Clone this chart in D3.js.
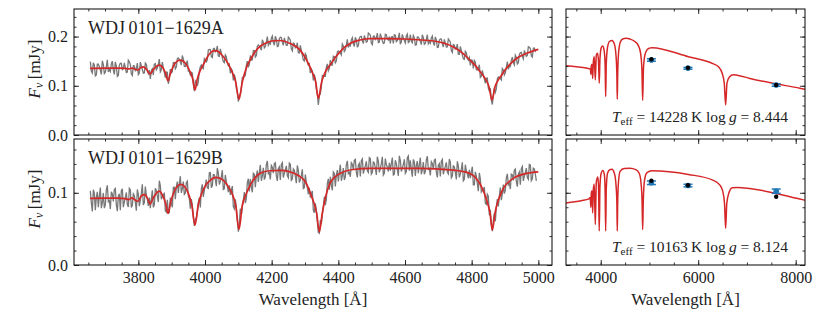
<!DOCTYPE html>
<html><head><meta charset="utf-8">
<script src="https://cdn.jsdelivr.net/npm/d3@7"></script>
<style>
body{margin:0;background:#fff}
svg text{font-family:"Liberation Serif","DejaVu Serif",serif;fill:#222}
</style>
</head><body>
<svg id="c" width="830" height="312"></svg>
<script>
// ---------- DATA ----------
// observed spectra sampled on a 3 Å grid starting at 3656 Å
const obsStart = 3656, obsStep = 3;
const obsA = [
.149,.130,.126,.1468,.142,.1202,.122,.1441,.144,.1386,.132,.1232,.151,.1429,.125,.1276,.139,.1528,.128,.1332,
.129,.1444,.150,.1318,.123,.1486,.140,.1192,.121,.1416,.146,.1457,.1327,.1346,.1465,.1367,.127,.128,.152,.1489,
.143,.1245,.121,.1407,.140,.131,.134,.1461,.123,.1261,.148,.1406,.133,.1255,.126,.146,.1435,.1298,.1245,.1315,
.114,.1311,.1345,.1218,.144,.145,.1325,.1361,.1435,.1542,.1285,.1327,.148,.1362,.127,.1167,.128,.1275,.104,.113,
.134,.1263,.1285,.1473,.147,.1345,.138,.1553,.1565,.1532,.1488,.1422,.1616,.1541,.1395,.1392,.1448,.1512,.1295,.1293,
.122,.1275,.126,.104,.089,.110,.107,.100,.109,.1298,.1385,.1423,.137,.135,.155,.1518,.1485,.1528,.173,.1738,
.1735,.159,.1575,.1753,.176,.169,.172,.1808,.1605,.1598,.175,.1663,.1575,.1488,.147,.1625,.159,.1463,.1405,.1435,
.1255,.134,.1305,.1108,.123,.115,.095,.0865,.068,.081,.083,.095,.117,.117,.119,.1208,.1415,.150,.1375,.1435,
.1615,.1523,.153,.1718,.1715,.1585,.1615,.1803,.183,.1805,.177,.1723,.1935,.1888,.177,.180,.189,.1998,.1825,.1873,
.185,.1965,.201,.1882,.1824,.2005,.1946,.1797,.1808,.1958,.1988,.1982,.1886,.182,.1974,.1898,.1822,.1826,.199,.1963,
.1926,.1753,.171,.1867,.1854,.1771,.1788,.1875,.1672,.1666,.182,.1719,.1617,.1526,.1504,.1653,.1611,.1479,.1417,.1443,
.1259,.1341,.1303,.1108,.1233,.1145,.0937,.0832,.061,.0796,.0836,.0972,.1207,.1192,.1197,.1193,.1378,.1446,.1304,.1352,
.152,.142,.142,.160,.159,.1466,.1502,.1686,.171,.1694,.1667,.1627,.1847,.1807,.1697,.1733,.1829,.1943,.1777,.183,
.1812,.1929,.1976,.1853,.180,.1987,.1934,.1791,.1808,.1965,.2001,.2004,.1916,.1859,.2022,.1955,.1887,.190,.2073,.2055,
.2027,.1869,.1838,.2009,.2008,.1939,.1969,.2069,.1879,.1889,.206,.1989,.192,.1859,.187,.2049,.204,.1949,.193,.1999,
.186,.199,.1999,.1859,.2038,.2027,.1896,.1916,.1975,.2075,.1844,.1894,.2043,.1973,.1922,.1871,.201,.205,.1879,.1899,
.2038,.1906,.1874,.2022,.1979,.1827,.1834,.1992,.199,.1949,.1897,.1837,.2036,.1974,.1842,.186,.1938,.2037,.1855,.1894,
.1863,.1971,.2009,.1877,.1815,.1993,.1931,.1777,.1782,.1927,.1952,.1948,.1853,.1788,.1943,.1866,.1789,.1791,.1952,.1924,
.1885,.1717,.1678,.1838,.1827,.1744,.176,.1847,.1644,.1641,.1798,.1713,.1627,.1548,.1539,.170,.167,.1561,.1522,.1573,
.1413,.1523,.1513,.1353,.1513,.1479,.1325,.1319,.1353,.1427,.1171,.1193,.1315,.1217,.1139,.1051,.1153,.1158,.0953,.0892,
.095,.071,.062,.081,.096,.0868,.0936,.1138,.118,.117,.115,.112,.135,.132,.122,.1265,.137,.1493,.1335,.1398,
.139,.1521,.1581,.1468,.1424,.1621,.1577,.1444,.147,.163,.1669,.1679,.1598,.1548,.1717,.1657,.1596,.1615,.1793,.1781,
.1758,.1606,.1583,.176,.1766,.1702,.1738];
const obsB = [
.1027,.0863,.0742,.1043,.0997,.0758,.0937,.1013,.0802,.0953,.1072,.0788,.0862,.0998,.0787,.0833,.1042,.1103,.0877,.0893,
.0775,.1015,.0985,.088,.1045,.106,.0835,.0745,.0955,.0985,.0759,.1028,.1057,.0801,.0875,.0933,.1005,.0837,.0803,.1063,
.1044,.0796,.0827,.0987,.0964,.0872,.0751,.1046,.0977,.0815,.0891,.0991,.1118,.083,.0863,.1085,.097,.0908,.0817,.0933,
.0788,.0918,.1034,.0798,.0834,.1063,.1032,.0952,.0872,.1167,.1097,.091,.0944,.096,.1002,.0751,.0733,.0903,.072,.0727,
.0934,.0849,.0799,.1076,.1077,.0912,.1083,.1155,.0998,.1126,.123,.0999,.1056,.1155,.0978,.0993,.114,.1161,.0954,.0921,
.078,.0914,.0831,.0661,.054,.0629,.0655,.0724,.0864,.0933,.0798,.1054,.1118,.0944,.1034,.1103,.1183,.1067,.1059,.1278,
.128,.1071,.1101,.1253,.1249,.1183,.1092,.134,.1275,.1115,.1159,.1224,.1313,.1047,.1057,.1247,.1149,.1091,.1008,.1104,
.0972,.1038,.1092,.081,.0779,.0909,.0798,.0613,.046,.0579,.0781,.0692,.0806,.0896,.101,.0856,.0918,.114,.1194,.1019,
.1191,.1081,.1007,.1269,.1255,.1078,.1236,.1307,.1149,.128,.1386,.1166,.1234,.1346,.1182,.122,.139,.1441,.1264,.1279,
.1185,.1378,.1354,.1271,.1403,.1416,.1236,.1165,.1333,.1358,.1178,.1394,.1417,.1211,.1269,.1315,.1373,.1237,.1209,.1411,
.1396,.1174,.1192,.133,.1312,.1234,.1132,.1378,.1312,.1144,.118,.124,.1324,.106,.1072,.1251,.1141,.1073,.0981,.1069,
.0933,.0984,.1024,.0758,.0723,.0853,.0763,.0599,.045,.044,.0624,.0568,.0698,.0811,.0946,.083,.0912,.1129,.1192,.1043,
.122,.1109,.1034,.1289,.1268,.1089,.1245,.1315,.1157,.1285,.1389,.1166,.123,.1342,.1178,.1219,.1391,.1443,.1267,.1284,
.1222,.1418,.1397,.1316,.145,.1463,.1284,.1213,.1381,.1406,.1227,.1444,.1468,.1265,.1326,.1375,.1436,.1305,.1282,.1487,
.1475,.1259,.1283,.1427,.1415,.1343,.1247,.1499,.1439,.1283,.1331,.1403,.1499,.1247,.1271,.1475,.1391,.1355,.1295,.1415,
.1307,.1403,.1487,.1247,.1259,.1451,.1403,.1319,.1235,.1511,.1451,.1295,.1343,.1391,.1463,.1271,.1295,.1487,.1511,.1307,
.1451,.1319,.1223,.1463,.1427,.1235,.1379,.1439,.1271,.1388,.1486,.1256,.1318,.1424,.1258,.1292,.1457,.1507,.1325,.1338,
.124,.1431,.1406,.1322,.1454,.1465,.1286,.1212,.1382,.1403,.1226,.1438,.1462,.1257,.132,.1364,.1422,.1289,.1264,.1467,
.1424,.1208,.1231,.1373,.1359,.1285,.1186,.1435,.1372,.1214,.1259,.1328,.1421,.1167,.1188,.1389,.1302,.1264,.1201,.1317,
.1204,.1289,.1361,.1109,.1109,.129,.123,.1126,.1021,.1275,.1193,.1011,.1032,.1044,.108,.0852,.0839,.0981,.0954,.0688,
.0763,.056,.047,.0612,.0715,.0605,.0803,.0912,.0812,.0954,.1074,.0897,.0984,.1113,.0989,.1036,.1204,.1262,.1111,.1136,
.1052,.1258,.1248,.1172,.1311,.1328,.1153,.1086,.1259,.1288,.1113,.1334,.1363,.1164,.1229,.128,.1343,.1211,.1187,.1393,
.1383,.1169,.1195,.1341,.133,.126,.1165];

// best-fit model, spectroscopic range (left panels)
const modelWlA = [3655,3700,3740,3760,3772,3780,3798,3808,3815,3825,3835,3845,3855,3863,3872,3882,3889,3896,3905,3915,3925,3935,3945,3955,3963,3970,3977,3985,3995,4005,4015,4025,4035,4050,4065,4080,4092,4102,4112,4125,4140,4160,4180,4200,4225,4255,4285,4305,4320,4332,4340,4350,4362,4375,4390,4405,4420,4435,4465,4495,4550,4600,4650,4695,4720,4745,4770,4795,4810,4825,4840,4852,4861,4870,4880,4890,4900,4920,4940,4965,4985,5000];
const modelFA  = [0.1355,0.1360,0.1360,0.1355,0.1345,0.1358,0.1320,0.1370,0.1385,0.1330,0.1240,0.1330,0.1400,0.1420,0.1380,0.1250,0.1100,0.1250,0.1400,0.1490,0.1520,0.1500,0.1420,0.1290,0.1140,0.0915,0.1140,0.1300,0.1430,0.1560,0.1660,0.1710,0.1710,0.1630,0.1500,0.1300,0.1080,0.0726,0.1080,0.1380,0.1580,0.1770,0.1860,0.1910,0.1920,0.1860,0.1730,0.1520,0.1300,0.1080,0.0746,0.1080,0.1300,0.1420,0.1570,0.1690,0.1790,0.1860,0.1930,0.1957,0.1960,0.1950,0.1930,0.1900,0.1860,0.1790,0.1680,0.1520,0.1420,0.1290,0.1150,0.0980,0.0711,0.0980,0.1120,0.1220,0.1320,0.1470,0.1580,0.1660,0.1710,0.1740];
const modelWlB = [3655,3700,3740,3760,3772,3780,3798,3810,3818,3828,3835,3845,3855,3863,3872,3882,3889,3896,3905,3915,3928,3940,3950,3960,3970,3980,3990,4000,4015,4033,4050,4065,4080,4092,4102,4112,4122,4135,4150,4170,4195,4225,4255,4280,4300,4320,4335,4343,4352,4362,4375,4390,4405,4445,4495,4645,4745,4795,4815,4830,4845,4855,4862,4870,4880,4895,4925,4965,5000];
const modelFB  = [0.0922,0.0925,0.0925,0.0920,0.0905,0.0930,0.0880,0.0960,0.0975,0.0920,0.0844,0.0930,0.1000,0.1024,0.0970,0.0850,0.0715,0.0850,0.0990,0.1080,0.1116,0.1080,0.0990,0.0840,0.0553,0.0840,0.0990,0.1090,0.1170,0.1213,0.1190,0.1120,0.1000,0.0830,0.0493,0.0830,0.0970,0.1100,0.1210,0.1280,0.1305,0.1310,0.1290,0.1240,0.1160,0.0945,0.0715,0.0460,0.0720,0.0950,0.1130,0.1220,0.1268,0.1323,0.1337,0.1337,0.1314,0.1268,0.1190,0.1080,0.0899,0.0720,0.0484,0.0720,0.0900,0.1060,0.1200,0.1268,0.1290];

// model over the wide (photometric) range (right panels)
const sedWlA = [3288,3500,3700,3770,3790,3798,3806,3820,3835,3850,3868,3889,3910,3935,3955,3970,3985,4010,4040,4070,4090,4102,4114,4140,4180,4230,4280,4315,4332,4340,4348,4365,4400,4450,4520,4600,4700,4770,4815,4845,4861,4877,4905,4950,5000,5050,5800,6300,6420,6490,6535,6563,6590,6640,6720,6800,7060,8085,8191];
const sedFA  = [0.1405,0.1385,0.1360,0.1345,0.1335,0.1230,0.1400,0.1440,0.1150,0.1500,0.1590,0.1120,0.1620,0.1660,0.1500,0.1050,0.1550,0.1770,0.1810,0.1720,0.1450,0.0780,0.1450,0.1780,0.1900,0.1920,0.1850,0.1600,0.1200,0.0725,0.1200,0.1650,0.1880,0.1950,0.1965,0.1950,0.1900,0.1820,0.1680,0.1350,0.0704,0.1350,0.1620,0.1730,0.1765,0.1775,0.1590,0.1450,0.1380,0.1260,0.1050,0.0610,0.1050,0.1180,0.1225,0.1215,0.1150,0.0950,0.0930];
const sedWlB = [3288,3600,3760,3785,3798,3808,3822,3835,3850,3868,3889,3910,3940,3955,3970,3985,4010,4045,4075,4090,4102,4114,4140,4185,4230,4280,4315,4332,4340,4348,4365,4400,4480,4600,4720,4790,4825,4848,4861,4874,4900,4950,5050,5800,6300,6440,6500,6540,6563,6586,6630,6700,6800,7060,8085,8191];
const sedFB  = [0.0860,0.0890,0.0915,0.0935,0.0800,0.1000,0.1030,0.0720,0.1060,0.1120,0.0560,0.1150,0.1220,0.1100,0.0470,0.1100,0.1270,0.1310,0.1250,0.1050,0.0470,0.1050,0.1270,0.1320,0.1325,0.1270,0.1100,0.0850,0.0470,0.0850,0.1150,0.1300,0.1337,0.1340,0.1320,0.1270,0.1150,0.0900,0.0490,0.0900,0.1180,0.1280,0.1305,0.1254,0.1176,0.1110,0.1030,0.0850,0.0507,0.0850,0.1000,0.1070,0.1075,0.1060,0.0913,0.0898];

// photometry (observed with error, and synthetic)
const photWl   = [5040, 5790, 7600];
const photObsA = [0.1524, 0.1355, 0.1016];
const photErrA = [0.0025, 0.0018, 0.0025];
const photSynA = [0.1539, 0.1365, 0.1016];
const photObsB = [0.1139, 0.1100, 0.1022];
const photErrB = [0.0025, 0.0018, 0.0030];
const photSynB = [0.1166, 0.1105, 0.0945];

const names  = ["WDJ\u20090101\u22121629A", "WDJ\u20090101\u22121629B"];
const teffs  = ["14228", "10163"];
const loggs  = ["8.444", "8.124"];

const xTicksLeft  = [3800, 4000, 4200, 4400, 4600, 4800, 5000];
const xTicksRight = [4000, 6000, 8000];
const yTicksTop   = [0.0, 0.1, 0.2];
const yTicksBot   = [0.0, 0.1];

// ---------- DRAW ----------
const svg = d3.select("#c");
const INK = "#1a1a1a";
const RED = "#d62728";
const GRAY = "#787878";
const BLUE = "#1f77b4";
let clipN = 0;

function axisTicks(g, scale, orient, pos, values, size, fmt, pad) {
  const f = {bottom: d3.axisBottom, top: d3.axisTop, left: d3.axisLeft, right: d3.axisRight}[orient];
  const ax = f(scale).tickValues(values).tickSizeInner(-size).tickSizeOuter(0)
    .tickPadding(pad || 0).tickFormat(fmt || (() => ""));
  const tr = (orient === "bottom" || orient === "top") ? `translate(0,${pos})` : `translate(${pos},0)`;
  const a = g.append("g").attr("transform", tr).call(ax);
  a.attr("font-family", null).attr("font-size", null);
  a.select(".domain").remove();
  a.selectAll(".tick line").attr("stroke", INK).attr("stroke-width", 0.9);
  a.selectAll(".tick text").attr("font-size", 16).attr("fill", "#222");
  return a;
}

function panel(px, py, xd, yd, o) {
  const x = d3.scaleLinear().domain(xd).range(px);
  const y = d3.scaleLinear().domain(yd).range([py[1], py[0]]);
  const g = svg.append("g");
  const id = "clip" + (clipN++);
  svg.append("clipPath").attr("id", id).append("rect")
    .attr("x", px[0]).attr("y", py[0]).attr("width", px[1] - px[0]).attr("height", py[1] - py[0]);
  const inner = g.append("g").attr("clip-path", `url(#${id})`);
  const xMin = d3.range(o.xMinorStart, xd[1], o.xMinorStep).filter(v => v >= xd[0]);
  const yMin = d3.range(0, yd[1], 0.02);
  axisTicks(g, x, "bottom", py[1], xMin, 2.5);
  axisTicks(g, x, "top", py[0], xMin, 2.5);
  axisTicks(g, x, "bottom", py[1], o.xMajor, 5, o.xLabels ? d3.format("d") : null, 7);
  axisTicks(g, x, "top", py[0], o.xMajor, 5);
  axisTicks(g, y, "left", px[0], yMin, 2.5);
  axisTicks(g, y, "right", px[1], yMin, 2.5);
  axisTicks(g, y, "left", px[0], o.yMajor, 5, o.yLabels ? d3.format(".1f") : null, 6);
  axisTicks(g, y, "right", px[1], o.yMajor, 5);
  g.append("rect").attr("x", px[0]).attr("y", py[0]).attr("width", px[1] - px[0]).attr("height", py[1] - py[0])
    .attr("fill", "none").attr("stroke", INK).attr("stroke-width", 1.1);
  return {x, y, g, inner};
}

const line = (x, y) => d3.line().x(d => x(d[0])).y(d => y(d[1]));
const zip = (a, b) => a.map((v, i) => [v, b[i]]);

const LX = [74, 552], RX = [566, 805];
const TY = [9, 135], BY = [139, 265];
const leftXd = [3607, 5041], rightXd = [3288, 8191];
const topYd = [0, 0.256], botYd = [0, 0.1745];

const rows = [
  {py: TY, yd: topYd, yMajor: yTicksTop, obs: obsA, mwl: modelWlA, mf: modelFA, swl: sedWlA, sf: sedFA,
   po: photObsA, pe: photErrA, ps: photSynA, name: names[0], teff: teffs[0], logg: loggs[0], last: false},
  {py: BY, yd: botYd, yMajor: yTicksBot, obs: obsB, mwl: modelWlB, mf: modelFB, swl: sedWlB, sf: sedFB,
   po: photObsB, pe: photErrB, ps: photSynB, name: names[1], teff: teffs[1], logg: loggs[1], last: true}
];

rows.forEach(r => {
  const L = panel(LX, r.py, leftXd, r.yd, {xMajor: xTicksLeft, xMinorStart: 3650, xMinorStep: 50,
    yMajor: r.yMajor, xLabels: r.last, yLabels: true});
  const obsPts = r.obs.map((f, i) => [obsStart + i * obsStep, f]);
  L.inner.append("path").attr("d", line(L.x, L.y)(obsPts))
    .attr("fill", "none").attr("stroke", GRAY).attr("stroke-width", 1.3);
  L.inner.append("path").attr("d", line(L.x, L.y).curve(d3.curveMonotoneX)(zip(r.mwl, r.mf)))
    .attr("fill", "none").attr("stroke", RED).attr("stroke-width", 1.7);
  L.g.append("text").attr("x", 88).attr("y", r.py[0] + 25).attr("font-size", 18).text(r.name);
  const yl = L.g.append("text").attr("transform", `translate(40,${(r.py[0] + r.py[1]) / 2 - 3}) rotate(-90)`)
    .attr("text-anchor", "middle").attr("font-size", 17);
  yl.append("tspan").attr("font-style", "italic").text("F");
  yl.append("tspan").attr("font-size", 12).attr("font-style", "italic").attr("dy", 3).text("\u03bd");
  yl.append("tspan").attr("dy", -3).text("\u2009[mJy]");

  const R = panel(RX, r.py, rightXd, r.yd, {xMajor: xTicksRight, xMinorStart: 3500, xMinorStep: 500,
    yMajor: r.yMajor, xLabels: r.last, yLabels: false});
  R.inner.append("path").attr("d", line(R.x, R.y).curve(d3.curveMonotoneX)(zip(r.swl, r.sf)))
    .attr("fill", "none").attr("stroke", RED).attr("stroke-width", 1.5);
  photWl.forEach((w, i) => {
    const cx = R.x(w), y0 = R.y(r.po[i] - r.pe[i]), y1 = R.y(r.po[i] + r.pe[i]);
    R.g.append("line").attr("x1", cx).attr("x2", cx).attr("y1", y0).attr("y2", y1).attr("stroke", BLUE).attr("stroke-width", 1.5);
    [y0, y1].forEach(yy => R.g.append("line").attr("x1", cx - 4.5).attr("x2", cx + 4.5).attr("y1", yy).attr("y2", yy)
      .attr("stroke", BLUE).attr("stroke-width", 1.5));
    R.g.append("circle").attr("cx", cx).attr("cy", R.y(r.po[i])).attr("r", 2.8).attr("fill", BLUE);
    R.g.append("circle").attr("cx", cx).attr("cy", R.y(r.ps[i])).attr("r", 2.2).attr("fill", "#000");
  });
  const t = R.g.append("text").attr("x", 788).attr("y", r.py[0] + 113).attr("text-anchor", "end").attr("font-size", 15.5);
  t.append("tspan").attr("font-style", "italic").text("T");
  t.append("tspan").attr("font-size", 11).attr("dy", 3).text("eff");
  t.append("tspan").attr("dy", -3).text(` = ${r.teff}\u2009K  log\u2009`);
  t.append("tspan").attr("font-style", "italic").text("g");
  t.append("tspan").text(` = ${r.logg}`);
});

[[313, "Wavelength [\u00c5]"], [685.5, "Wavelength [\u00c5]"]].forEach(([cx, s]) =>
  svg.append("text").attr("x", cx).attr("y", 305).attr("text-anchor", "middle").attr("font-size", 17).text(s));
</script>
</body></html>
